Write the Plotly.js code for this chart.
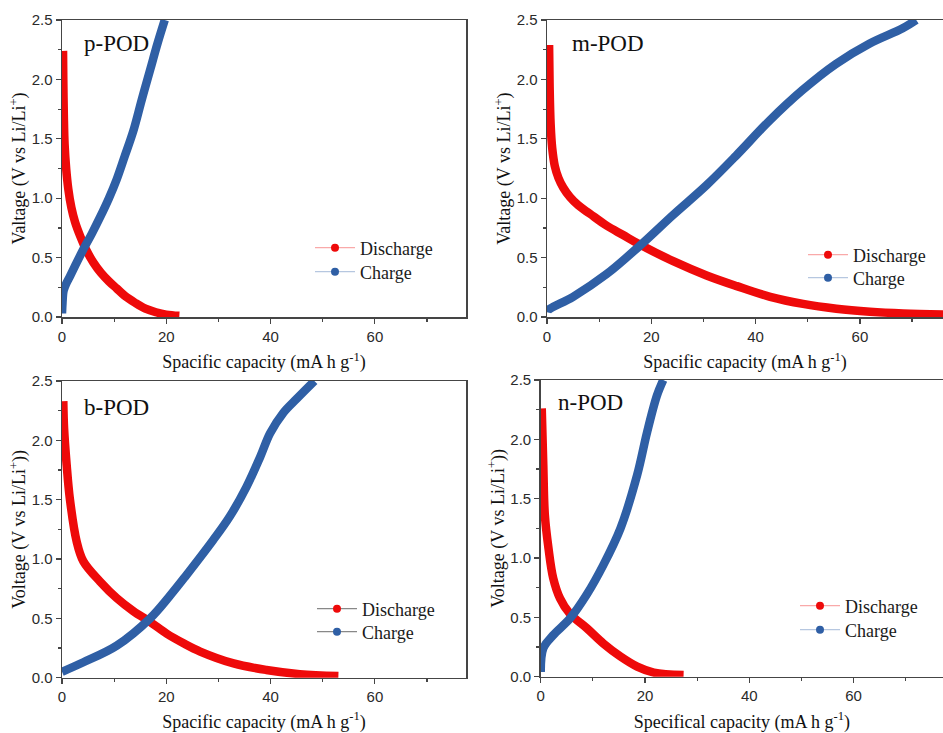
<!DOCTYPE html>
<html>
<head>
<meta charset="utf-8">
<script src="https://cdn.plot.ly/plotly-3.0.1.min.js"></script>
<style>html,body{margin:0;padding:0;background:#fff;}#chart{width:943px;height:733px;}</style>
</head>
<body>
<div id="chart"></div>
<script>
// ---- data ----
const panelNames = ["p-POD", "m-POD", "b-POD", "n-POD"];
const seriesNames = ["Discharge", "Charge"];
const xTitles = ["Spacific capacity (mA h g<sup>-1</sup>)", "Spacific capacity (mA h g<sup>-1</sup>)",
                 "Spacific capacity (mA h g<sup>-1</sup>)", "Specifical capacity (mA h g<sup>-1</sup>)"];
const yTitles = ["Valtage (V vs Li/Li<sup>+</sup>)", "Valtage (V vs Li/Li<sup>+</sup>)",
                 "Voltage (V vs Li/Li<sup>+</sup>))", "Voltage (V vs Li/Li<sup>+</sup>))"];
const xTickVals = [0, 20, 40, 60];
const yTickVals = [0, 0.5, 1.0, 1.5, 2.0, 2.5];

// p-POD
const pDisX = [0.2, 0.25, 0.35, 0.5, 0.8, 1.2, 1.8, 2.5, 3.5, 4.7, 6, 7.5, 9, 10.5, 12, 14, 16, 18, 20, 22.5];
const pDisV = [2.24, 2.0, 1.7, 1.45, 1.25, 1.08, 0.92, 0.80, 0.68, 0.56, 0.46, 0.37, 0.30, 0.24, 0.18, 0.12, 0.07, 0.04, 0.02, 0.01];
const pChX = [0, 0.1, 0.3, 0.8, 1.5, 2.5, 4.1, 5.7, 7.3, 9, 10.5, 12, 13.7, 15.3, 16.9, 18.3, 19.7];
const pChV = [0.03, 0.12, 0.22, 0.28, 0.34, 0.43, 0.57, 0.70, 0.84, 1.0, 1.16, 1.35, 1.57, 1.83, 2.08, 2.30, 2.5];

// m-POD
const mDisX = [0.4, 0.5, 0.7, 1.0, 1.5, 2.2, 3.1, 4.4, 6.0, 8.2, 11.4, 14.6, 17.8, 24.2, 30.6, 36.4, 42.8, 49.1, 55.5, 61.9, 68.3, 76];
const mDisV = [2.29, 1.95, 1.62, 1.42, 1.27, 1.17, 1.09, 1.01, 0.94, 0.87, 0.77, 0.69, 0.61, 0.47, 0.35, 0.26, 0.17, 0.11, 0.07, 0.045, 0.03, 0.02];
const mChX = [0, 0.25, 5.0, 11.4, 17.8, 24.2, 30.6, 36.3, 42.6, 49.0, 55.4, 61.8, 68.2, 70.8];
const mChV = [0.04, 0.06, 0.17, 0.36, 0.60, 0.86, 1.11, 1.36, 1.65, 1.91, 2.13, 2.30, 2.43, 2.5];

// b-POD
const bDisX = [0.25, 0.4, 0.9, 1.5, 2.8, 4.1, 7.3, 10.5, 13.7, 16.9, 20.1, 23.3, 26.5, 32.9, 39.2, 45.6, 53];
const bDisV = [2.33, 2.1, 1.79, 1.51, 1.15, 0.98, 0.81, 0.67, 0.56, 0.47, 0.37, 0.29, 0.22, 0.12, 0.065, 0.03, 0.015];
const bChX = [0, 4.1, 10.5, 16.9, 20.5, 23.6, 29.0, 32.2, 35.4, 38.0, 39.9, 42.4, 45.0, 48.4];
const bChV = [0.05, 0.13, 0.27, 0.50, 0.68, 0.85, 1.16, 1.36, 1.61, 1.86, 2.06, 2.23, 2.35, 2.5];

// n-POD
const nDisX = [0.2, 0.5, 0.8, 1.5, 2.4, 3.7, 5.6, 8.8, 12, 15.3, 18.5, 21.7, 27.4];
const nDisV = [2.26, 1.78, 1.36, 1.08, 0.83, 0.66, 0.53, 0.41, 0.28, 0.17, 0.085, 0.035, 0.015];
const nChX = [0, 0.5, 2.4, 5.6, 8.8, 12, 15.3, 18.5, 20.4, 22.3, 23.5];
const nChV = [0.04, 0.24, 0.35, 0.49, 0.69, 0.94, 1.25, 1.70, 2.06, 2.37, 2.5];

const discharge = [[pDisX, pDisV], [mDisX, mDisV], [bDisX, bDisV], [nDisX, nDisV]];
const charge = [[pChX, pChV], [mChX, mChV], [bChX, bChV], [nChX, nChV]];

// ---- layout geometry ----
const W = 943, H = 733;
const RED = '#ee0a0a', BLUE = '#2f5fa5';
const boxes = [ // left, right, top, bottom (px)
  [62, 466, 20, 317],
  [547, 943, 20, 317],
  [62, 466, 381, 677.7],
  [540.7, 943, 380, 676.7]
];
const pxPerUnit = 5.215;
// legend line start x, row centre y for [Discharge, Charge]
const legendPos = [[315, 248, 272], [808, 255, 278], [317, 609, 632], [800, 606, 630]];
const labelPos = [[82, 43], [570, 43], [82, 407], [556, 402]];
const legLineColors = [['rgba(238,10,10,0.35)', 'rgba(47,95,165,0.35)'], ['rgba(238,10,10,0.35)', 'rgba(47,95,165,0.35)'],
                       ['#888', '#888'], ['rgba(238,10,10,0.35)', 'rgba(47,95,165,0.35)']];

const traces = [];
const layout = {
  width: W, height: H,
  margin: {l: 0, r: 0, t: 0, b: 0},
  paper_bgcolor: '#fff', plot_bgcolor: '#fff',
  showlegend: true,
  annotations: []
};

let legendCount = 0;
for (let i = 0; i < 4; i++) {
  const sfx = i === 0 ? '' : String(i + 1);
  const xa = 'x' + sfx, ya = 'y' + sfx;
  const [l, r, t, b] = boxes[i];
  const xmax = (r - l) / pxPerUnit;
  const right = i % 2 === 1;
  const common = {
    showline: true, linecolor: '#454545', linewidth: 1.5,
    ticks: 'outside', ticklen: 5, tickwidth: 1.2, tickcolor: '#454545',
    tickfont: {family: 'Liberation Sans, Arial, sans-serif', size: 15, color: '#2a2a2a'},
    showgrid: false, zeroline: false, automargin: false, fixedrange: true
  };
  layout['xaxis' + sfx] = Object.assign({}, common, {
    domain: [l / W, r / W], anchor: ya, range: [0, xmax],
    tickvals: xTickVals, ticktext: xTickVals.map(String),
    minor: {ticks: 'outside', ticklen: 3, tickwidth: 1.2, tickcolor: '#454545', dtick: 10, tick0: 0, showgrid: false},
    mirror: true,
    title: {text: xTitles[i], standoff: 12, font: {family: 'Liberation Serif, Times New Roman, serif', size: 18, color: '#111'}}
  });
  layout['yaxis' + sfx] = Object.assign({}, common, {
    domain: [1 - b / H, 1 - t / H], anchor: xa, range: [0, 2.5],
    tickvals: yTickVals, ticktext: yTickVals.map(v => v.toFixed(1)),
    minor: {ticks: 'outside', ticklen: 3, tickwidth: 1.2, tickcolor: '#454545', dtick: 0.25, tick0: 0, showgrid: false},
    mirror: right ? false : true,
    title: {text: yTitles[i], standoff: 1, font: {family: 'Liberation Serif, Times New Roman, serif', size: 18, color: '#111'}}
  });
  layout.annotations.push({
    xref: 'paper', yref: 'paper', x: labelPos[i][0] / W, y: 1 - labelPos[i][1] / H,
    xanchor: 'left', yanchor: 'middle', showarrow: false, text: panelNames[i],
    font: {family: 'Liberation Serif, Times New Roman, serif', size: 23, color: '#111'}
  });
  // data bands
  [[discharge[i], RED], [charge[i], BLUE]].forEach(([d, c]) => {
    traces.push({
      type: 'scatter', mode: 'lines', x: d[0], y: d[1], xaxis: xa, yaxis: ya,
      line: {color: c, width: 8.5, shape: 'spline', smoothing: 1},
      showlegend: false, hoverinfo: 'skip'
    });
  });
  // legend entries, one small legend each
  seriesNames.forEach((nm, k) => {
    legendCount++;
    const lid = legendCount === 1 ? 'legend' : 'legend' + legendCount;
    layout[lid] = {
      x: (legendPos[i][0] - 5) / W, y: 1 - legendPos[i][1 + k] / H, xanchor: 'left', yanchor: 'middle',
      bgcolor: 'rgba(0,0,0,0)', borderwidth: 0, itemwidth: 40,
      font: {family: 'Liberation Serif, Times New Roman, serif', size: 18, color: '#1a1a1a'}
    };
    traces.push({
      type: 'scatter', mode: 'lines+markers', x: [null], y: [null], xaxis: xa, yaxis: ya,
      name: nm, legend: lid,
      line: {color: legLineColors[i][k], width: 1.2},
      marker: {color: k === 0 ? RED : BLUE, size: 8}
    });
  });
}

Plotly.newPlot('chart', traces, layout, {staticPlot: true, displayModeBar: false});
</script>
</body>
</html>
